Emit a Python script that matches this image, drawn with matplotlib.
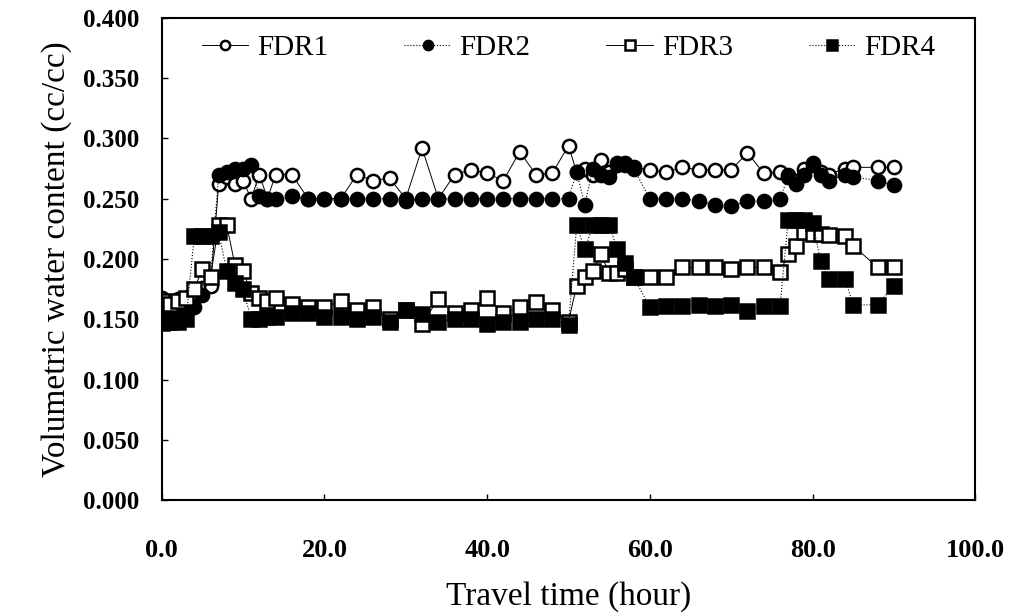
import numpy as np
import matplotlib.pyplot as plt
from matplotlib.ticker import FormatStrFormatter

plt.rcParams['font.family'] = ['Liberation Serif', 'DejaVu Serif']

# Travel time (hour)
hours = [0, 1, 2, 3, 4, 5, 6, 7, 8, 9, 10, 11, 12, 13, 14,
         16, 18, 20,
         22, 24, 26, 28, 30, 32, 34, 36, 38, 40, 42, 44, 46, 48,
         50, 51, 52, 53, 54, 55, 56, 57, 58,
         60, 62, 64, 66, 68, 70, 72, 74, 76,
         77, 78, 79, 80, 81, 82,
         84, 85, 88, 90]

# Volumetric water content (cc/cc)
fdr1 = [.168, .165, .167, .168, .172, .176, .178, .262, .268, .262, .265, .250, .270, .250, .270,
        .270, .250, .250,
        .250, .270, .265, .267, .250, .292, .250, .270, .274, .271, .265, .289, .270, .271,
        .294, .272, .275, .270, .282, .272, .278, .280, .276,
        .274, .272, .276, .274, .274, .274, .288, .271, .272,
        .270, .265, .275, .280, .272, .270,
        .275, .276, .276, .276]
fdr2 = [.150, .152, .155, .157, .160, .170, .185, .270, .272, .275, .275, .278, .252, .250, .250,
        .252, .250, .250,
        .250, .250, .250, .250, .248, .250, .250, .250, .250, .250, .250, .250, .250, .250,
        .250, .272, .245, .275, .270, .268, .280, .278, .275,
        .250, .250, .250, .248, .245, .244, .248, .248, .250,
        .268, .262, .270, .278, .270, .265,
        .270, .268, .265, .261]
fdr3 = [.165, .163, .165, .168, .175, .192, .185, .228, .228, .195, .190, .172, .168, .165, .168,
        .163, .160, .160,
        .165, .158, .160, .150, .158, .146, .167, .155, .158, .168, .155, .160, .164, .158,
        .148, .178, .185, .190, .204, .188, .188, .192, .185,
        .185, .185, .193, .193, .193, .192, .193, .193, .189,
        .204, .211, .222, .221, .221, .220,
        .219, .211, .193, .193]
fdr4 = [.147, .148, .148, .150, .219, .219, .219, .222, .190, .180, .175, .150, .150, .152, .152,
        .155, .155, .152,
        .152, .150, .152, .148, .158, .154, .148, .150, .150, .146, .148, .148, .150, .150,
        .145, .228, .208, .228, .228, .228, .208, .197, .185,
        .160, .161, .161, .162, .161, .162, .157, .161, .161,
        .232, .232, .232, .230, .198, .183,
        .183, .162, .162, .178]

fig = plt.figure(figsize=(10.17, 6.13), dpi=100)
ax = fig.add_axes([0.159, 0.184, 0.800, 0.787])

ms = 9.5
mew = 1.8
ax.plot(hours, fdr1, color='black', lw=0.7, ls='-', marker='o', ms=ms, mew=mew,
        mfc='white', mec='black', label='FDR1')
ax.plot(hours, fdr2, color='black', lw=0.8, ls=':', marker='o', ms=ms, mew=mew,
        mfc='black', mec='black', label='FDR2')
ax.plot(hours, fdr3, color='black', lw=0.7, ls='-', marker='s', ms=ms, mew=mew,
        mfc='white', mec='black', label='FDR3')
ax.plot(hours, fdr4, color='black', lw=0.8, ls=':', marker='s', ms=ms, mew=mew,
        mfc='black', mec='black', label='FDR4')

ax.set_xlim(0, 100)
ax.set_ylim(0, 0.4)
ax.set_xticks(np.arange(0, 101, 20))
ax.set_yticks(np.arange(0, 0.401, 0.05))
ax.xaxis.set_major_formatter(FormatStrFormatter('%.1f'))
ax.yaxis.set_major_formatter(FormatStrFormatter('%.3f'))
ax.tick_params(direction='in', length=4, width=1)
ax.tick_params(axis='x', pad=28, labelsize=19)
ax.tick_params(axis='y', pad=16, labelsize=18)
for lab in ax.get_xticklabels() + ax.get_yticklabels():
    lab.set_fontweight('bold')
for sp in ax.spines.values():
    sp.set_linewidth(1.5)

ax.set_xlabel('Travel time (hour)', fontsize=24, labelpad=14)
ax.set_ylabel('Volumetric water content (cc/cc)', fontsize=24, labelpad=8)

ax.legend(loc='upper center', bbox_to_anchor=(0.5, 1.02), ncol=4, frameon=False,
          fontsize=21, columnspacing=2.6, handlelength=1.6, handletextpad=0.3,
          markerscale=0.7)

fig.savefig('out.png', dpi=100)
